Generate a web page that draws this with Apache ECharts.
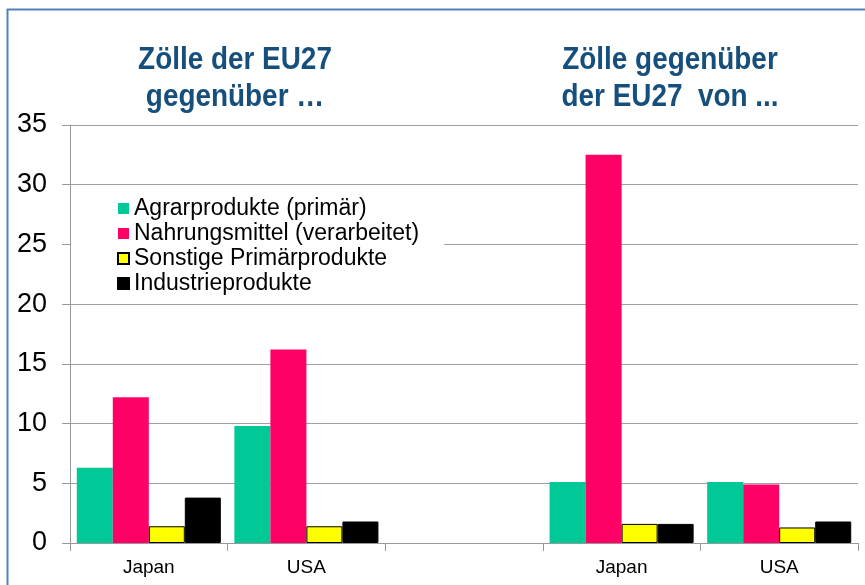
<!DOCTYPE html>
<html>
<head>
<meta charset="utf-8">
<script src="https://cdn.jsdelivr.net/npm/echarts@6/dist/echarts.min.js"></script>
<style>
html,body{margin:0;padding:0;background:#fff;}
#c{width:865px;height:585px;}
</style>
</head>
<body>
<div id="c"></div>
<script>
const categories = ['Japan', 'USA', '', 'Japan', 'USA'];
const seriesNames = ['Agrarprodukte (primär)', 'Nahrungsmittel (verarbeitet)', 'Sonstige Primärprodukte', 'Industrieprodukte'];
const agrar = [6.3, 9.8, null, 5.1, 5.1];
const nahrung = [12.2, 16.2, null, 32.5, 4.9];
const sonstige = [1.4, 1.4, null, 1.6, 1.3];
const industrie = [3.8, 1.8, null, 1.6, 1.8];
const yTicks = [0, 5, 10, 15, 20, 25, 30, 35];
const titleLeft = ['Zölle der EU27', 'gegenüber …'];
const titleRight = ['Zölle gegenüber', 'der EU27  von ...'];

const FONT = '"Liberation Sans", Arial, sans-serif';
const colors = ['#00C896', '#FF0066', '#FFFF00', '#000000'];
const values = [agrar, nahrung, sonstige, industrie];

const chart = echarts.init(document.getElementById('c'), null, {renderer: 'canvas'});

function titleText(txt, x, y) {
  return {
    type: 'text', x: x, y: y, scaleX: 0.9,
    style: {
      text: txt, align: 'center', verticalAlign: 'middle',
      font: 'bold 31px ' + FONT, fill: '#164E7C'
    }
  };
}

const option = {
  backgroundColor: '#fff',
  animation: false,
  grid: {left: 70, right: 7, top: 125, bottom: 42, containLabel: false},
  legend: {
    orient: 'vertical', left: 71, top: 192,
    padding: [5, 25, 5, 46],
    backgroundColor: '#fff',
    itemWidth: 11, itemHeight: 11, itemGap: 2,
    icon: 'rect',
    textStyle: {fontFamily: FONT, fontSize: 23, color: '#000', lineHeight: 22},
    data: seriesNames
  },
  xAxis: {
    type: 'category', data: categories,
    axisLine: {lineStyle: {color: '#999', width: 1}},
    axisTick: {show: true, length: 8, lineStyle: {color: '#999'}},
    axisLabel: {fontFamily: FONT, fontSize: 19, color: '#000', margin: 15, interval: 0}
  },
  yAxis: {
    type: 'value', min: yTicks[0], max: yTicks[yTicks.length - 1], interval: 5,
    axisLine: {show: true, lineStyle: {color: '#999', width: 1}},
    axisTick: {show: true, length: 8, lineStyle: {color: '#999'}},
    splitLine: {show: true, lineStyle: {color: '#a0a0a0', width: 1}},
    axisLabel: {fontFamily: FONT, fontSize: 27, color: '#000', margin: 23}
  },
  series: seriesNames.map((n, i) => ({
    name: n, type: 'bar', data: values[i],
    barGap: '0%', barCategoryGap: '8.6%',
    itemStyle: {
      color: colors[i],
      borderColor: '#000',
      borderWidth: (i >= 2) ? 1 : 0
    }
  })),
  graphic: [
    {type: 'line', shape: {x1: 7, y1: 9.5, x2: 865, y2: 9.5}, style: {stroke: '#4F81BD', lineWidth: 2}},
    {type: 'line', shape: {x1: 7.5, y1: 9, x2: 7.5, y2: 585}, style: {stroke: '#4F81BD', lineWidth: 2}},
    titleText(titleLeft[0], 235, 60),
    titleText(titleLeft[1], 235, 97),
    titleText(titleRight[0], 670, 60),
    titleText(titleRight[1], 670, 97)
  ]
};
chart.setOption(option);
</script>
</body>
</html>
